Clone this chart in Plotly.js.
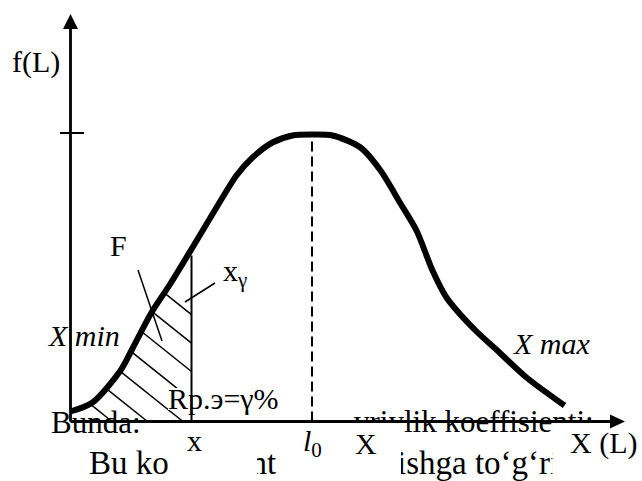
<!DOCTYPE html>
<html><head><meta charset="utf-8">
<script src="https://cdn.plot.ly/plotly-3.0.1.min.js"></script>
<style>html,body{margin:0;padding:0;background:#fff}#chart{width:642px;height:481px}</style>
</head><body><div id="chart"></div>
<script>
// ---- data (schematic units: horizontal = L, vertical = f(L)) ----
const curveL = [0, 22, 50, 62, 81, 100, 122, 146, 166, 182, 202, 222, 241, 262, 290, 310, 330, 346, 362, 376, 402, 430, 456, 494];
const curveF = [10, 19, 51, 73, 109, 138, 174, 214, 246, 264, 279, 286, 287, 286, 274, 251, 218, 191, 151, 124, 94, 68, 44, 16];
const xGamma = 121;      // boundary x
const xGammaTop = 166;   // top of boundary line
const l0 = 241.5;        // mode l0
const fMax = 288.5;      // tick on f(L) axis
const xAxisEnd = 554.5;
const yAxisEnd = 407.5;

// labels
const labelText = ["f(L)", "F", "x<sub>γ</sub>", "<i>X min</i>", "<i>X max</i>", "Rp.э=γ%", "x", "<i>l</i><sub>0</sub>", "X", "X (L)"];
const labelX = [-58.5, 39.5, 152.5, -22.5, 442.5, 97.5, 116.5, 232.5, 284.5, 499.5];
const labelY = [359.5, 176.5, 148.5, 86.5, 78.5, 23.5, -18.5, -21.5, -21.5, -21.5];

// background document text (partly hidden)
const docText = ["Bunda:", "vriylik koeffisienti:", "Bu koeffisient", "ishga to‘g‘ri"];
const docX = [-19.5, 283.5, 18.5, 326.5];
const docY = [-3.5, -2.5, -44, -44];
const docSize = [31, 31, 33, 33];

const FONT = "Liberation Serif, Times New Roman, serif";

// ---- hatch lines: Y = s*(C - X) ----
const hatchSlope = 0.8, hatchStart = 41.5, hatchStep = 35.5, hatchCount = 7;
function curveAt(x){
  for (let i=0;i<curveL.length-1;i++){
    if (x>=curveL[i] && x<=curveL[i+1]){
      const t=(x-curveL[i])/(curveL[i+1]-curveL[i]);
      return curveF[i]+t*(curveF[i+1]-curveF[i]);
    }
  }
  return 0;
}
const hx=[], hy=[];
for (let k=0;k<hatchCount;k++){
  const C = hatchStart + k*hatchStep;
  let x1,y1;
  if (C<=xGamma){x1=C;y1=0;} else {x1=xGamma;y1=hatchSlope*(C-xGamma);}
  let lo=0, hi=x1;
  for (let it=0;it<60;it++){
    const m=(lo+hi)/2;
    const g=curveAt(m)-hatchSlope*(C-m);
    if (g<0) lo=m; else hi=m;
  }
  const x0=(lo+hi)/2, y0=hatchSlope*(C-x0);
  hx.push(x0,x1,null); hy.push(y0,y1,null);
}

const traces = [
  {x:docX, y:docY, mode:'text', text:docText, textposition:'middle right',
   textfont:{family:FONT,size:docSize,color:'#000'}, hoverinfo:'skip'},
  {x:hx, y:hy, mode:'lines', line:{color:'#000',width:1.5}, hoverinfo:'skip'},
  {x:curveL, y:curveF, mode:'lines', line:{color:'#000',width:6,shape:'spline',smoothing:0.8}, hoverinfo:'skip'},
  {x:[l0,l0], y:[0,fMax-1], mode:'lines', line:{color:'#000',width:2,dash:'10px,5px'}, hoverinfo:'skip'},
  {x:[67.5,91.5,null,144.5,114.5], y:[151.5,80.5,null,138.5,119.5], mode:'lines', line:{color:'#000',width:1.5}, hoverinfo:'skip'}
];

const W='#ffffff';
const shapes = [
  {type:'rect', layer:'above', x0:97.5, x1:186.5, y0:-60, y1:-1.5, fillcolor:W, line:{width:0}},
  {type:'rect', layer:'above', x0:211.5, x1:330.5, y0:-60, y1:-0.5, fillcolor:W, line:{width:0}},
  {type:'rect', layer:'above', x0:482, x1:572, y0:-60, y1:-0.5, fillcolor:W, line:{width:0}},
  {type:'rect', layer:'above', x0:97.5, x1:211.5, y0:11.5, y1:33.5, fillcolor:W, line:{width:0}},
  {type:'line', layer:'above', x0:xGamma, x1:xGamma, y0:0, y1:xGammaTop, line:{color:'#000',width:2}},
  {type:'line', layer:'above', x0:0, x1:0, y0:0, y1:yAxisEnd-12, line:{color:'#000',width:2.8}},
  {type:'line', layer:'above', x0:0, x1:xAxisEnd-12, y0:0, y1:0, line:{color:'#000',width:2.8}},
  {type:'path', layer:'above', path:`M 0,${yAxisEnd} L -7.5,${yAxisEnd-15} L 7.5,${yAxisEnd-15} Z`, fillcolor:'#000', line:{width:0}},
  {type:'path', layer:'above', path:`M ${xAxisEnd},0 L ${xAxisEnd-15},7 L ${xAxisEnd-15},-7 Z`, fillcolor:'#000', line:{width:0}},
  {type:'line', layer:'above', x0:-10.5, x1:13.5, y0:fMax, y1:fMax, line:{color:'#000',width:2}}
];

const annotations = labelText.map((t,i)=>({
  x:labelX[i], y:labelY[i], text:t, showarrow:false, xanchor:'left', yanchor:'middle',
  font:{family:FONT,size:30,color:'#000'}, borderpad:0, borderwidth:0
}));

const layout = {
  width:642, height:481, margin:{l:0,r:0,t:0,b:0},
  paper_bgcolor:'#fff', plot_bgcolor:'#fff', showlegend:false,
  xaxis:{range:[-70.5,571.5], visible:false, fixedrange:true},
  yaxis:{range:[-59.5,421.5], visible:false, fixedrange:true},
  shapes, annotations
};
Plotly.newPlot('chart', traces, layout, {staticPlot:true, displayModeBar:false});
</script></body></html>
